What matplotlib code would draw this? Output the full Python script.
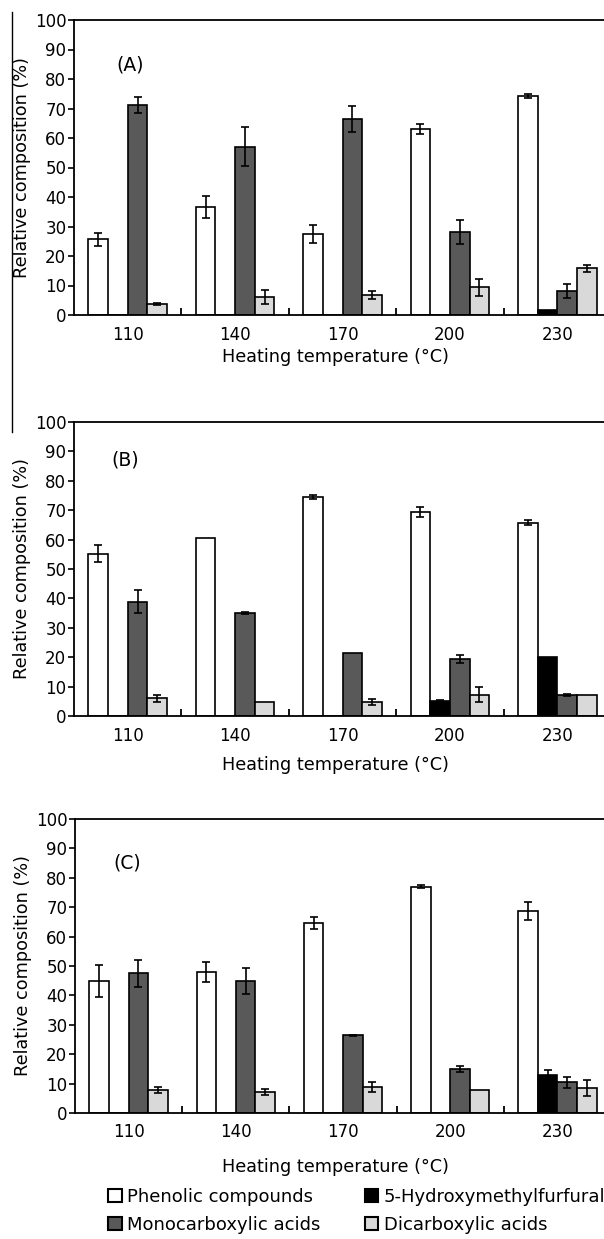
import numpy as np
import matplotlib.pyplot as plt
from matplotlib.patches import Patch
from matplotlib.lines import Line2D

plt.rcParams['font.family'] = ['DejaVu Sans']

temps = ['110', '140', '170', '200', '230']
series = ['Phenolic compounds', '5-Hydroxymethylfurfural',
          'Monocarboxylic acids', 'Dicarboxylic acids']
colors = ['#ffffff', '#000000', '#595959', '#d9d9d9']

# panel A
A_phenolic = [25.6, 36.7, 27.5, 62.9, 74.2]
A_phenolic_err = [2.1, 3.8, 3.0, 1.7, 0.7]
A_hmf = [0, 0, 0, 0, 1.6]
A_hmf_err = [0, 0, 0, 0, 0]
A_mono = [71.2, 57.1, 66.4, 28.1, 8.2]
A_mono_err = [2.6, 6.7, 4.5, 4.1, 2.3]
A_di = [3.6, 6.2, 6.8, 9.4, 15.8]
A_di_err = [0.3, 2.4, 1.4, 2.8, 1.3]

# panel B
B_phenolic = [55.2, 60.5, 74.5, 69.4, 65.8]
B_phenolic_err = [2.8, 0, 0.7, 1.6, 1.0]
B_hmf = [0, 0, 0, 5.2, 20.2]
B_hmf_err = [0, 0, 0, 0.3, 0]
B_mono = [38.9, 35.0, 21.3, 19.4, 7.2]
B_mono_err = [3.9, 0.3, 0, 1.4, 0.3]
B_di = [6.0, 4.7, 4.7, 7.3, 7.2]
B_di_err = [1.1, 0, 1.0, 2.4, 0]

# panel C
C_phenolic = [44.9, 47.9, 64.7, 77.0, 68.7]
C_phenolic_err = [5.6, 3.5, 2.0, 0.6, 3.1]
C_hmf = [0, 0, 0, 0, 13.0]
C_hmf_err = [0, 0, 0, 0, 1.7]
C_mono = [47.5, 44.9, 26.4, 14.9, 10.4]
C_mono_err = [4.6, 4.4, 0.3, 1.0, 1.8]
C_di = [7.9, 7.0, 9.0, 7.9, 8.4]
C_di_err = [1.1, 1.0, 1.7, 0, 2.7]

panels = [
    ('(A)', [A_phenolic, A_hmf, A_mono, A_di],
     [A_phenolic_err, A_hmf_err, A_mono_err, A_di_err]),
    ('(B)', [B_phenolic, B_hmf, B_mono, B_di],
     [B_phenolic_err, B_hmf_err, B_mono_err, B_di_err]),
    ('(C)', [C_phenolic, C_hmf, C_mono, C_di],
     [C_phenolic_err, C_hmf_err, C_mono_err, C_di_err]),
]

W, H = 604, 1239
fig = plt.figure(figsize=(W / 100, H / 100), dpi=100)

# pixel boxes of each plot area: left, top, bottom (right runs past the image)
boxes = [(74, 20, 315), (74, 422, 716), (75, 819, 1113)]
label_pos = [(0.104, 0.847), (0.095, 0.871), (0.097, 0.851)]
tick_pads = [8, 8, 7]
xlabel_y = [-0.142, -0.167, -0.183]

w = 0.183
x = np.arange(len(temps))

for i, (name, vals, errs) in enumerate(panels):
    left, top, bottom = boxes[i]
    ax = fig.add_axes([left / W, 1 - bottom / H, (611 - left) / W, (bottom - top) / H])
    for k in range(4):
        pos = x + (k - 1.5) * w
        ax.bar(pos, vals[k], width=w, color=colors[k], edgecolor='black',
               linewidth=1.2, zorder=2)
        v = np.array(vals[k])
        e = np.array(errs[k])
        m = e > 0
        ax.errorbar(pos[m], v[m], yerr=e[m], fmt='none', ecolor='black',
                    elinewidth=1.2, capsize=3.2, capthick=1.2, zorder=3)

    ax.set_xlim(-0.5, 4.5)
    ax.set_ylim(0, 100)
    ax.set_yticks(range(0, 101, 10))
    ax.set_xticks([0.5, 1.5, 2.5, 3.5, 4.5])
    ax.set_xticklabels([])
    ax.set_xticks(x, minor=True)
    ax.set_xticklabels(temps, minor=True)
    ax.tick_params(axis='x', which='major', direction='in', length=5, width=1.3)
    ax.tick_params(axis='x', which='minor', length=0, labelsize=12, pad=tick_pads[i])
    ax.tick_params(axis='y', direction='out', length=4.5, width=1.2, labelsize=12, pad=1)
    for s in ax.spines.values():
        s.set_linewidth(1.3)
    ax.set_ylabel('Relative composition (%)', fontsize=12.7, labelpad=3)
    ax.set_xlabel('Heating temperature (°C)', fontsize=12.7, va='center')
    ax.xaxis.set_label_coords(0.486, xlabel_y[i])
    ax.text(label_pos[i][0], label_pos[i][1], name, transform=ax.transAxes,
            fontsize=13.5, ha='center', va='center')

# stray border line at the left of the upper panels
fig.add_artist(Line2D([12 / W, 12 / W], [1 - 12 / H, 1 - 432 / H],
                      color='black', linewidth=1))

handles = [Patch(facecolor=c, edgecolor='black', linewidth=1.5) for c in colors]
order = [0, 2, 1, 3]
fig.legend([handles[j] for j in order], [series[j] for j in order],
           ncol=2, loc='upper left', bbox_to_anchor=(108 / W, 1 - 1188 / H),
           frameon=False, fontsize=13, handlelength=0.75, handleheight=0.75,
           handletextpad=0.3, columnspacing=2.45, labelspacing=0.55, borderpad=0,
           borderaxespad=0)

fig.savefig('out.png', dpi=100)
